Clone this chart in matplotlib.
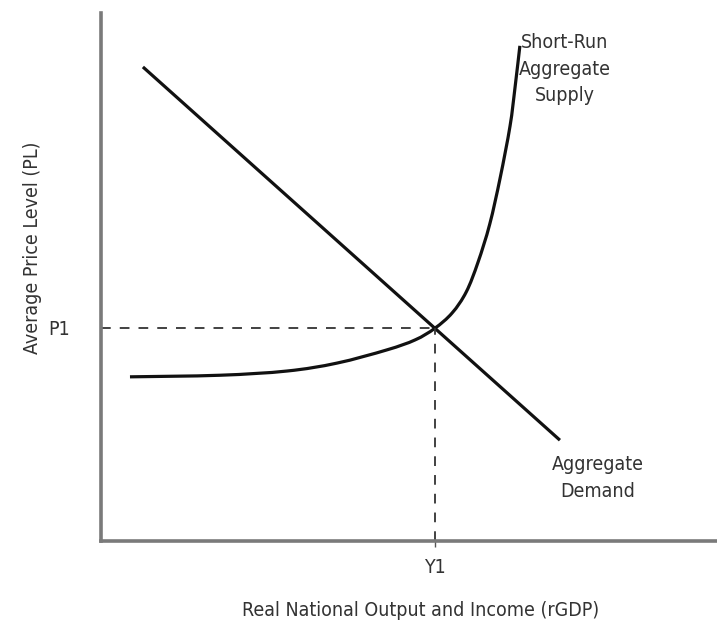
import numpy as np
import matplotlib
matplotlib.use("Agg")
import matplotlib.pyplot as plt
from matplotlib.path import Path
from matplotlib.patches import PathPatch

plt.rcParams['font.family'] = ['DejaVu Sans']
plt.rcParams['font.stretch'] = 'condensed'
plt.rcParams['lines.scale_dashes'] = False

# curves (axes run 0..10 both ways)
sras_x = [0.47, 1.93, 3.02, 3.83, 4.64, 5.10, 5.42, 5.70, 5.93, 6.12,
          6.31, 6.48, 6.64, 6.72, 6.80]
sras_y = [3.11, 3.14, 3.22, 3.37, 3.62, 3.81, 4.03, 4.32, 4.72, 5.28,
          6.00, 6.88, 7.86, 8.58, 9.38]
ad_x = [0.68, 7.45]
ad_y = [8.98, 1.91]

# equilibrium
y1 = 5.42
p1 = 4.04
tick_labels_x = ['Y1']
tick_labels_y = ['P1']

txt = '#333333'


def smooth_path(xs, ys):
    # catmull-rom through the points, drawn as cubic bezier pieces
    p = np.column_stack([xs, ys])
    verts = [p[0]]
    codes = [Path.MOVETO]
    for i in range(len(p) - 1):
        p0 = p[i - 1] if i > 0 else p[i]
        p3 = p[i + 2] if i + 2 < len(p) else p[i + 1]
        c1 = p[i] + (p[i + 1] - p0) / 6
        c2 = p[i + 1] - (p3 - p[i]) / 6
        verts += [c1, c2, p[i + 1]]
        codes += [Path.CURVE4] * 3
    return Path(verts, codes)


fig = plt.figure(figsize=(7.17, 6.24), dpi=100)
ax = fig.add_axes([0.1409, 0.133, 0.8591, 0.846])
ax.set_xlim(0, 10)
ax.set_ylim(0, 10)

ax.plot(ad_x, ad_y, color='#111111', lw=2.3, solid_capstyle='butt')
ax.add_patch(PathPatch(smooth_path(sras_x, sras_y), fill=False,
                       edgecolor='#111111', lw=2.3, capstyle='butt'))

# dashed guides to the axes
ax.plot([0, y1], [p1, p1], color='#333333', lw=1.3, dashes=(7, 6.5))
ax.plot([y1, y1], [0, p1], color='#333333', lw=1.3, dashes=(7, 6.5))

for s in ['top', 'right']:
    ax.spines[s].set_visible(False)
for s in ['left', 'bottom']:
    ax.spines[s].set_color('#7a7a7a')
    ax.spines[s].set_linewidth(2.6)

ax.set_xticks([y1])
ax.set_xticklabels(tick_labels_x)
ax.set_yticks([p1])
ax.set_yticklabels(tick_labels_y)
ax.tick_params(axis='x', length=4, width=1, color='#555555', pad=8,
               labelsize=14, labelcolor=txt)
ax.tick_params(axis='y', length=0, pad=22, labelsize=14, labelcolor=txt)

ax.text(7.53, 9.62, 'Short-Run\nAggregate\nSupply', ha='center', va='top',
        fontsize=14, color=txt, linespacing=1.5)
ax.text(8.07, 1.62, 'Aggregate\nDemand', ha='center', va='top',
        fontsize=14, color=txt, linespacing=1.5)

fig.text(33 / 717, 1 - 248 / 624, 'Average Price Level (PL)', rotation=90,
         ha='center', va='center', fontsize=14, color=txt)
fig.text(421 / 717, 1 - 610 / 624, 'Real National Output and Income (rGDP)',
         ha='center', va='center', fontsize=14, color=txt)

fig.savefig('out.png', dpi=100)
